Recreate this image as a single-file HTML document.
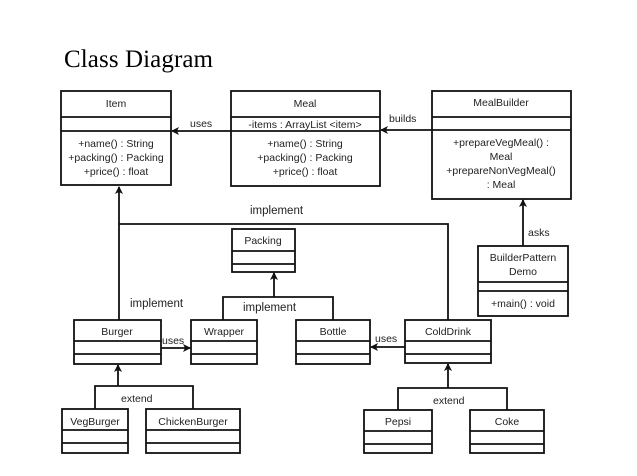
<!DOCTYPE html>
<html><head><meta charset="utf-8"><style>
html,body{margin:0;padding:0;background:#fff;}
svg{display:block;}
text{font-family:"Liberation Sans",sans-serif;font-size:10.5px;fill:#222;}
.t{text-anchor:middle;}
</style></head><body>
<svg width="637" height="476" viewBox="0 0 637 476" xmlns="http://www.w3.org/2000/svg">
<defs>
<marker id="a" markerWidth="8" markerHeight="8" refX="7" refY="4" orient="auto" markerUnits="userSpaceOnUse">
<path d="M0,0 L8,4 L0,8 L2,4 z" fill="#111"/></marker>
</defs>
<text x="64" y="67" style="font-family:'Liberation Serif',serif;font-size:25px;fill:#000" textLength="149">Class Diagram</text>
<g fill="none" stroke="#111" stroke-width="1.8">
<!-- Item -->
<rect x="61" y="91" width="110" height="94"/><line x1="61" y1="117" x2="171" y2="117"/><line x1="61" y1="131" x2="171" y2="131"/>
<!-- Meal -->
<rect x="231" y="91" width="149" height="95"/><line x1="231" y1="117" x2="380" y2="117"/><line x1="231" y1="131" x2="380" y2="131"/>
<!-- MealBuilder -->
<rect x="432" y="91" width="139" height="108"/><line x1="432" y1="117" x2="571" y2="117"/><line x1="432" y1="130" x2="571" y2="130"/>
<!-- BuilderPatternDemo -->
<rect x="478" y="246" width="90" height="70"/><line x1="478" y1="282" x2="568" y2="282"/><line x1="478" y1="291" x2="568" y2="291"/>
<!-- Packing -->
<rect x="232" y="229" width="63" height="43"/><line x1="232" y1="251" x2="295" y2="251"/><line x1="232" y1="264" x2="295" y2="264"/>
<!-- Burger, Wrapper, Bottle, ColdDrink -->
<rect x="74" y="320" width="87" height="44"/><line x1="74" y1="341" x2="161" y2="341"/><line x1="74" y1="354" x2="161" y2="354"/>
<rect x="191" y="320" width="66" height="44"/><line x1="191" y1="341" x2="257" y2="341"/><line x1="191" y1="354" x2="257" y2="354"/>
<rect x="296" y="320" width="74" height="44"/><line x1="296" y1="341" x2="370" y2="341"/><line x1="296" y1="354" x2="370" y2="354"/>
<rect x="405" y="320" width="86" height="43"/><line x1="405" y1="341" x2="491" y2="341"/><line x1="405" y1="354" x2="491" y2="354"/>
<!-- leaves -->
<rect x="62" y="409" width="66" height="44"/><line x1="62" y1="430" x2="128" y2="430"/><line x1="62" y1="443" x2="128" y2="443"/>
<rect x="146" y="409" width="94" height="44"/><line x1="146" y1="430" x2="240" y2="430"/><line x1="146" y1="443" x2="240" y2="443"/>
<rect x="364" y="410" width="68" height="43"/><line x1="364" y1="431" x2="432" y2="431"/><line x1="364" y1="444" x2="432" y2="444"/>
<rect x="470" y="410" width="74" height="43"/><line x1="470" y1="431" x2="544" y2="431"/><line x1="470" y1="444" x2="544" y2="444"/>
<!-- connectors -->
<line x1="231" y1="131" x2="172" y2="131" marker-end="url(#a)"/>
<line x1="432" y1="130" x2="381" y2="130" marker-end="url(#a)"/>
<line x1="523" y1="246" x2="523" y2="200" marker-end="url(#a)"/>
<line x1="119" y1="320" x2="119" y2="187" marker-end="url(#a)"/>
<polyline points="119,224 448,224 448,320"/>
<line x1="274" y1="297" x2="274" y2="273" marker-end="url(#a)"/>
<polyline points="223,320 223,297 333,297 333,320"/>
<line x1="161" y1="348" x2="190" y2="348" marker-end="url(#a)"/>
<line x1="405" y1="347" x2="371" y2="347" marker-end="url(#a)"/>
<line x1="118" y1="386" x2="118" y2="365" marker-end="url(#a)"/>
<polyline points="95,409 95,386 193,386 193,409"/>
<line x1="448" y1="388" x2="448" y2="364" marker-end="url(#a)"/>
<polyline points="398,410 398,388 507,388 507,410"/>
</g>
<text class="t" x="116" y="107">Item</text>
<text class="t" x="116" y="147">+name() : String</text>
<text class="t" x="116" y="161">+packing() : Packing</text>
<text class="t" x="116" y="175">+price() : float</text>
<text class="t" x="305" y="107">Meal</text>
<text class="t" x="305" y="128">-items : ArrayList &lt;item&gt;</text>
<text class="t" x="305" y="147">+name() : String</text>
<text class="t" x="305" y="161">+packing() : Packing</text>
<text class="t" x="305" y="175">+price() : float</text>
<text class="t" x="501" y="106">MealBuilder</text>
<text class="t" x="501" y="146">+prepareVegMeal() :</text>
<text class="t" x="501" y="160">Meal</text>
<text class="t" x="501" y="174">+prepareNonVegMeal()</text>
<text class="t" x="501" y="188">: Meal</text>
<text class="t" x="523" y="261">BuilderPattern</text>
<text class="t" x="523" y="275">Demo</text>
<text class="t" x="523" y="307">+main() : void</text>
<text class="t" x="263" y="244">Packing</text>
<text class="t" x="117" y="335">Burger</text>
<text class="t" x="224" y="335">Wrapper</text>
<text class="t" x="333" y="335">Bottle</text>
<text class="t" x="448" y="335">ColdDrink</text>
<text class="t" x="95" y="425">VegBurger</text>
<text class="t" x="193" y="425">ChickenBurger</text>
<text class="t" x="398" y="425">Pepsi</text>
<text class="t" x="507" y="425">Coke</text>
<text x="190" y="127">uses</text>
<text x="389" y="122">builds</text>
<text x="528" y="236">asks</text>
<text x="250" y="214" style="font-size:11.5px">implement</text>
<text x="130" y="307" style="font-size:11.5px">implement</text>
<text x="243" y="311" style="font-size:11.5px">implement</text>
<text x="162" y="344">uses</text>
<text x="375" y="342">uses</text>
<text x="121" y="402">extend</text>
<text x="433" y="404">extend</text>
</svg>
</body></html>
